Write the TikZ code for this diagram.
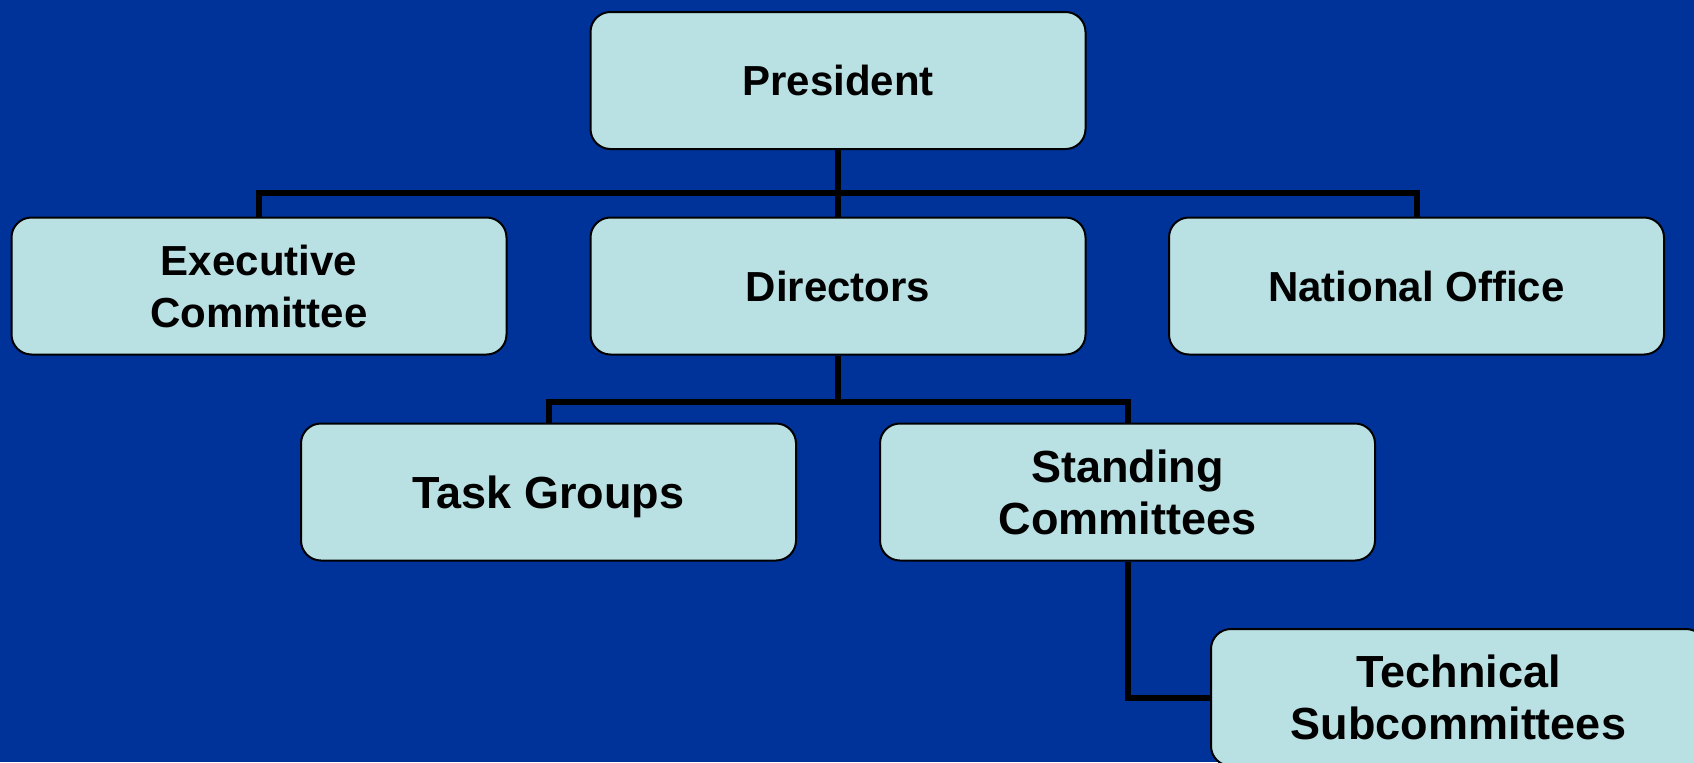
\documentclass[tikz,border=0pt]{standalone}
\usepackage{fontspec}
\setmainfont{Liberation Sans}
\usetikzlibrary{positioning}
\definecolor{slideblue}{RGB}{0,51,153}
\definecolor{boxcyan}{RGB}{185,224,227}

\begin{document}
\begin{tikzpicture}[x=0.5pt,y=-0.5pt,
    orgbox/.style={draw=black, line width=1pt, fill=boxcyan, rounded corners=10pt,
        minimum width=247.5pt, minimum height=68.5pt, inner sep=0pt, align=center,
        font=\fontsize{21}{26}\selectfont\bfseries},
    lowbox/.style={orgbox, font=\fontsize{22.5}{26}\selectfont\bfseries},
    oneline/.style={text height=15pt, text depth=0pt},
    lowline/.style={text height=16.1pt, text depth=0pt},
    link/.style={line width=3pt}]
    \fill[slideblue] (0,0) rectangle (1694,762);
    \clip (0,0) rectangle (1694,762);
    % boxes
    \node[orgbox, oneline] (pres) at (838,80.5) {President};
    \node[orgbox] (exec) at (259,286) {Executive\\Committee};
    \node[orgbox, oneline] (dir) at (838,286) {Directors};
    \node[orgbox, oneline] (natl) at (1416.5,286) {National Office};
    \node[lowbox, lowline] (task) at (548.5,492) {Task Groups};
    \node[lowbox] (stand) at (1127.5,492) {Standing\\Committees};
    \node[lowbox] (tech) at (1458.5,697.5) {Technical\\Subcommittees};
    % connectors
    \coordinate (bar1) at (838,193);
    \coordinate (bar2) at (838,402);
    \draw[link] (pres.south) -- (dir.north);
    \draw[link] (exec.north) |- (bar1) -| (natl.north);
    \draw[link] (dir.south) -- (bar2);
    \draw[link] (task.north) |- (bar2) -| (stand.north);
    \draw[link] (stand.south) |- (tech.west);
\end{tikzpicture}
\end{document}
